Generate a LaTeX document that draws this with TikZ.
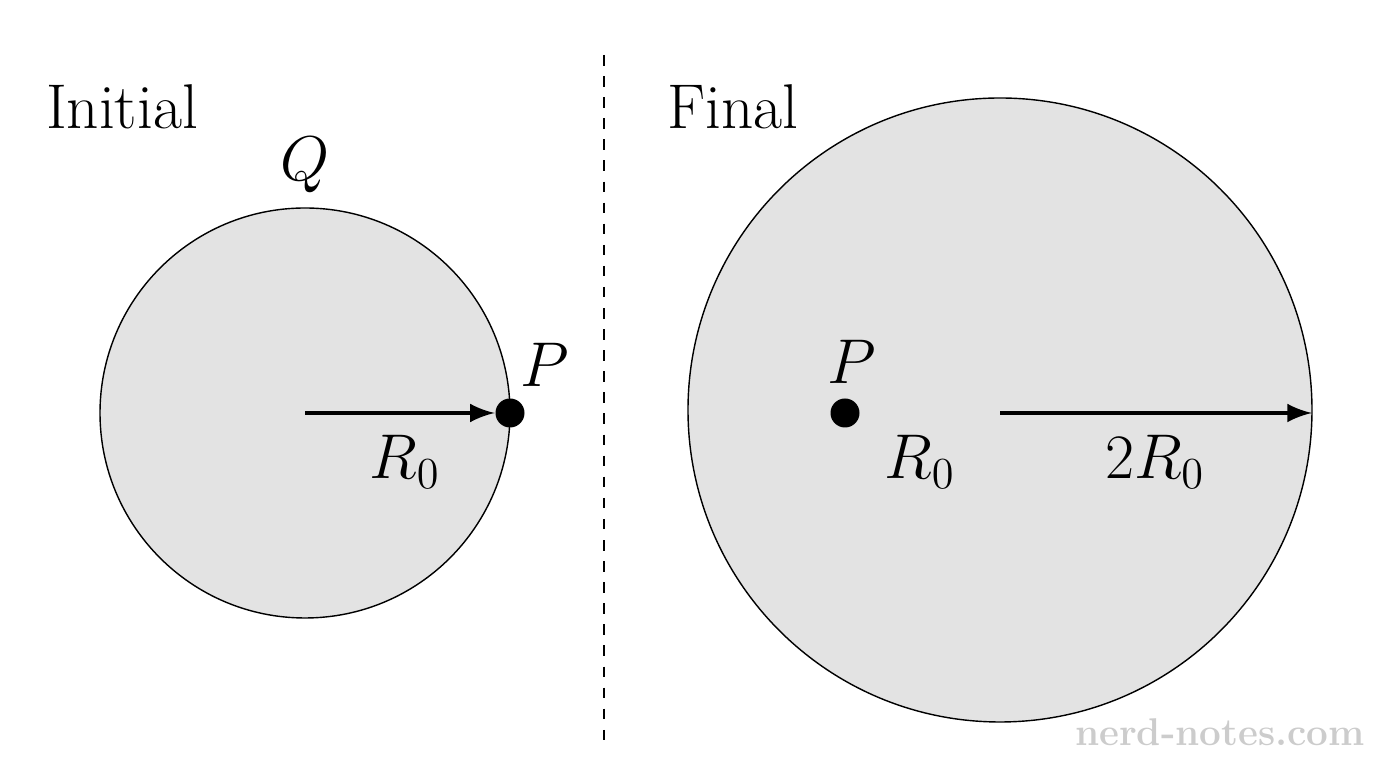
\documentclass[tikz,border=0pt]{standalone}
\usepackage{fix-cm}
\definecolor{discgray}{HTML}{E3E3E3}
\begin{document}
\begin{tikzpicture}[x=1cm,y=1cm,
    lbl/.style={font=\fontsize{18}{21}\selectfont},
    arr/.style={->,>=latex,line width=1.4pt}]
      \useasboundingbox (0,0) rectangle (13.76,7.68);
      \draw [fill=discgray] (3.05,3.55) circle (2.05);
      \draw [fill=discgray] (10.0,3.58) circle (3.12);
      \draw [dashed] (6.04,7.13) -- (6.04,0.23);
      \node [lbl] (ini) at (1.22,6.61) {Initial};
      \node [lbl] (fin) at (7.33,6.61) {Final};
      \node [lbl] (q) at (3.05,6.03) {\(Q\)};
      \coordinate (c1) at (3.05,3.55);
      \node [circle,fill,inner sep=0pt,minimum size=0.29cm] (p1) at (5.10,3.55) {};
      \node [lbl] (lp1) at (5.45,4.03) {\(P\)};
      \node [lbl] (r1) at (4.05,3.06) {\(R_0\)};
      \draw [arr] (c1) -- (p1.west);
      \node [circle,fill,inner sep=0pt,minimum size=0.29cm] (p2) at (8.45,3.55) {};
      \node [lbl] (lp2) at (8.52,4.06) {\(P\)};
      \node [lbl] (r2) at (9.20,3.06) {\(R_0\)};
      \coordinate (c2) at (10.0,3.55);
      \coordinate (e2) at (13.12,3.55);
      \draw [arr] (c2) -- (e2);
      \node [lbl] (r3) at (11.55,3.06) {\(2R_0\)};
      \node [text=gray!40,font=\fontsize{11}{13}\selectfont\bfseries] (wm) at (12.2,0.36) {nerd-notes.com};
    \end{tikzpicture}
\end{document}
